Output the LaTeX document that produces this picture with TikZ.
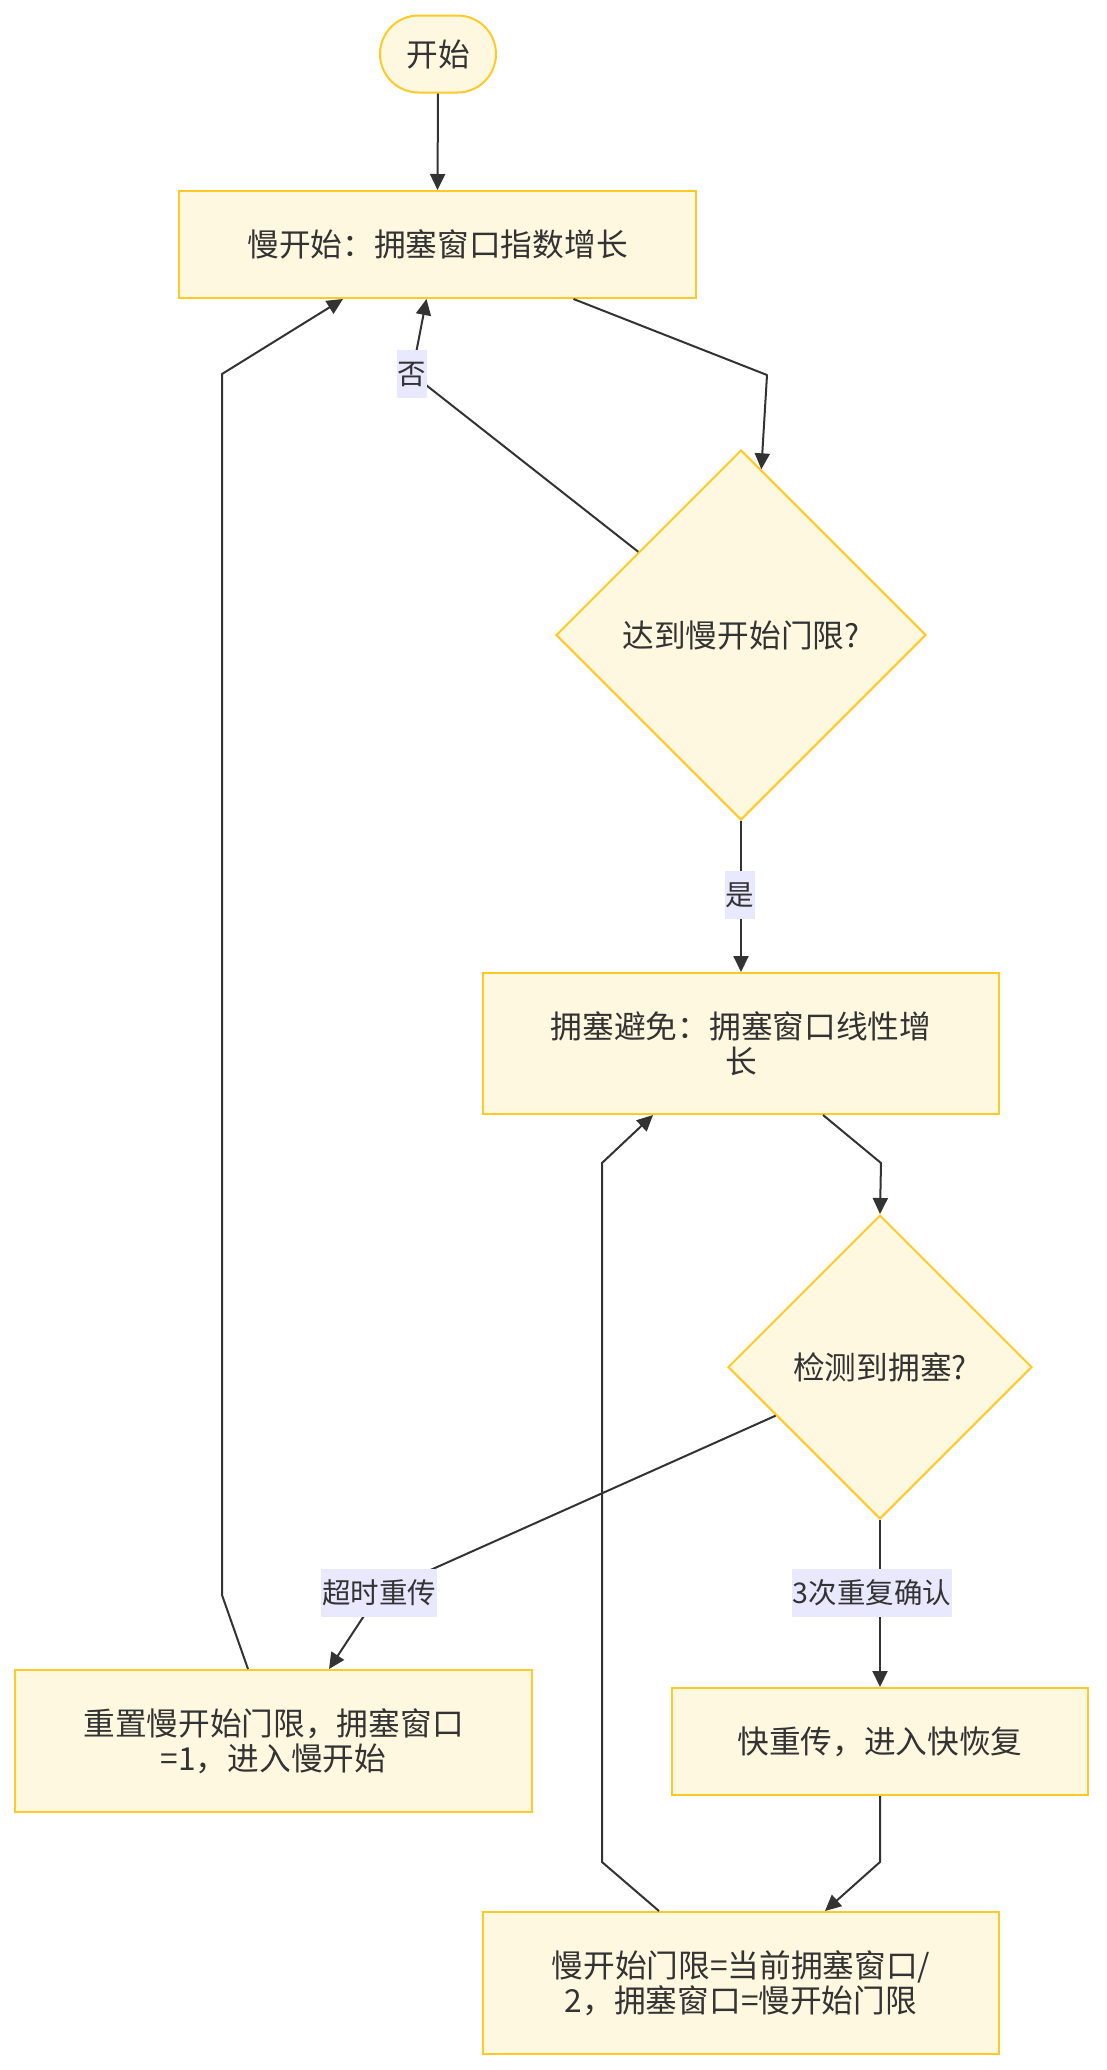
\documentclass[tikz,border=0pt]{standalone}
\usepackage{fontspec}
\setmainfont{Noto Sans CJK SC}
\usetikzlibrary{shapes.geometric,arrows.meta}
\definecolor{nfill}{HTML}{FFF8E1}
\definecolor{nline}{HTML}{FFCA28}
\definecolor{lbg}{HTML}{E8E8FF}
\definecolor{ink}{HTML}{333333}
\begin{document}
\begin{tikzpicture}[x=1pt,y=-1pt,
  box/.style={draw=nline,fill=nfill,line width=2pt,text=ink,align=center,inner sep=0pt,font=\fontsize{31.7}{35}\selectfont},
  dia/.style={box,diamond,aspect=1},
  lbl/.style={fill=lbg,text=ink,inner xsep=1pt,inner ysep=0pt,minimum height=48pt,font=\fontsize{28.5}{34}\selectfont},
  edge/.style={draw=ink,line width=2pt,line join=round,-{Triangle[length=16pt,width=15pt]}}
]
\useasboundingbox[fill=white] (0,0) rectangle (1106,2070);

\node[box,rounded corners=38.5pt,minimum width=116pt,minimum height=77pt] (start) at (438,54) {开始};
\node[box,minimum width=517pt,minimum height=107pt] (box1) at (437.5,244.5) {慢开始：拥塞窗口指数增长};
\node[dia,minimum width=370pt,minimum height=370pt] (d1) at (741,635) {达到慢开始门限?};
\node[box,minimum width=516pt,minimum height=141pt] (box2) at (741,1043.5) {拥塞避免：拥塞窗口线性增\\长};
\node[dia,minimum width=304pt,minimum height=304pt] (d2) at (880,1367) {检测到拥塞?};
\node[box,minimum width=517pt,minimum height=142pt] (box3) at (273.5,1741) {重置慢开始门限，拥塞窗口\\=1，进入慢开始};
\node[box,minimum width=416pt,minimum height=107pt] (box4) at (880,1741.5) {快重传，进入快恢复};
\node[box,minimum width=516pt,minimum height=142pt] (box5) at (741,1983) {慢开始门限=当前拥塞窗口/\\2，拥塞窗口=慢开始门限};

\coordinate (cno) at (412,374);
\coordinate (cyes) at (740,895);
\coordinate (cto) at (379,1593);
\coordinate (cdup) at (872,1593);

\draw[edge] (start.south) -- (box1.north);
\draw[edge] ([xshift=136pt]box1.south) -- (767,375) -- (d1.83.5);
\draw[edge] (d1.141.7) -- (cno) -- ([xshift=-11pt]box1.south);
\draw[edge] (d1.south) -- (box2.north);
\draw[edge] ([xshift=82pt]box2.south) -- (881,1163) -- (d2.north);
\draw[edge] (d2.205.4) -- (cto) -- ([xshift=55.5pt]box3.north);
\draw[edge] (d2.south) -- (box4.north);
\draw[edge] (box4.south) -- (880,1862) -- ([xshift=84pt]box5.north);
\draw[edge] ([xshift=-82pt]box5.north) -- (602,1862) -- (602,1163) -- ([xshift=-88pt]box2.south);
\draw[edge] ([xshift=-25.5pt]box3.north) -- (222,1595) -- (222,374) -- ([xshift=-94.5pt]box1.south);

\node[lbl] (lno) at (cno) {否};
\node[lbl] (lyes) at (cyes) {是};
\node[lbl] (lto) at (cto) {超时重传};
\node[lbl] (ldup) at (cdup) {3次重复确认};
\end{tikzpicture}
\end{document}
